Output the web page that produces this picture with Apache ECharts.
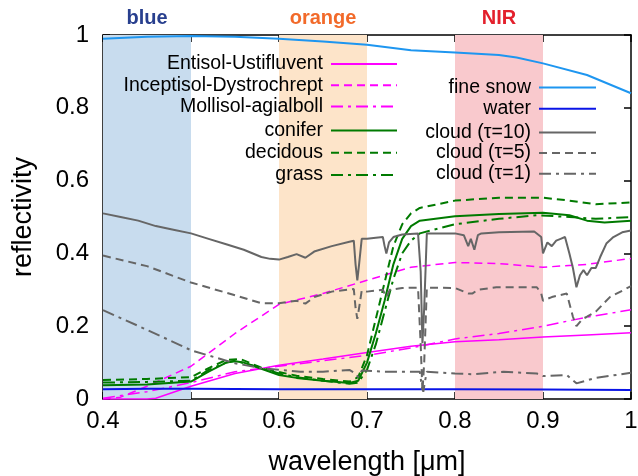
<!DOCTYPE html>
<html>
<head>
<meta charset="utf-8">
<script src="https://cdn.jsdelivr.net/npm/echarts@6/dist/echarts.min.js"></script>
<style>html,body{margin:0;padding:0;background:#fff}#c{width:638px;height:476px}</style>
</head>
<body>
<div id="c"></div>
<script>
// ---- data ----
var xTicks = [0.4, 0.5, 0.6, 0.7, 0.8, 0.9, 1];
var yTicks = [0, 0.2, 0.4, 0.6, 0.8, 1];
var bands = [
  {name: 'blue', from: 0.4, to: 0.5},
  {name: 'orange', from: 0.6, to: 0.7},
  {name: 'NIR', from: 0.8, to: 0.9}
];
var soilNames = ['Entisol-Ustifluvent', 'Inceptisol-Dystrochrept', 'Mollisol-agialboll'];
var vegNames = ['conifer', 'decidous', 'grass'];
var snowWaterNames = ['fine snow', 'water'];
var cloudNames = ['cloud (\u03c4=10)', 'cloud (\u03c4=5)', 'cloud (\u03c4=1)'];

var entisol = [[0.4,0.0],[0.45,0.0],[0.46,0.002],[0.5,0.035],[0.55,0.07],[0.6,0.093],[0.65,0.11],[0.7,0.128],[0.75,0.145],[0.8,0.157],[0.85,0.163],[0.9,0.17],[0.95,0.176],[1.0,0.182]];
var inceptisol = [[0.4,0.0],[0.42,0.005],[0.45,0.035],[0.5,0.09],[0.55,0.18],[0.6,0.26],[0.65,0.29],[0.7,0.326],[0.75,0.362],[0.8,0.375],[0.85,0.372],[0.9,0.362],[0.95,0.37],[1.0,0.386]];
var mollisol = [[0.4,0.002],[0.45,0.02],[0.5,0.045],[0.55,0.075],[0.6,0.09],[0.65,0.105],[0.7,0.12],[0.75,0.14],[0.8,0.165],[0.85,0.18],[0.9,0.2],[0.95,0.225],[1.0,0.245]];
var conifer = [[0.4,0.038],[0.45,0.04],[0.5,0.048],[0.52,0.075],[0.54,0.1],[0.55,0.104],[0.56,0.1],[0.58,0.083],[0.6,0.066],[0.62,0.058],[0.65,0.05],[0.68,0.044],[0.69,0.05],[0.7,0.1],[0.71,0.18],[0.72,0.27],[0.73,0.37],[0.74,0.44],[0.75,0.475],[0.76,0.49],[0.8,0.502],[0.85,0.508],[0.9,0.512],[0.93,0.505],[0.95,0.49],[0.97,0.485],[1.0,0.49]];
var decidous = [[0.4,0.052],[0.45,0.055],[0.5,0.06],[0.52,0.085],[0.54,0.107],[0.556,0.11],[0.578,0.088],[0.6,0.074],[0.62,0.064],[0.65,0.055],[0.68,0.048],[0.69,0.06],[0.7,0.12],[0.71,0.22],[0.72,0.32],[0.73,0.42],[0.74,0.48],[0.75,0.51],[0.76,0.525],[0.8,0.545],[0.85,0.553],[0.9,0.553],[0.93,0.545],[0.96,0.535],[1.0,0.54]];
var grass = [[0.4,0.045],[0.45,0.047],[0.5,0.05],[0.52,0.08],[0.54,0.1],[0.55,0.105],[0.57,0.092],[0.6,0.07],[0.62,0.06],[0.65,0.05],[0.68,0.042],[0.69,0.045],[0.7,0.08],[0.71,0.15],[0.72,0.24],[0.73,0.33],[0.74,0.4],[0.75,0.435],[0.76,0.455],[0.8,0.48],[0.85,0.495],[0.893,0.505],[0.93,0.5],[0.96,0.495],[1.0,0.5]];
var fineSnow = [[0.4,0.99],[0.45,0.995],[0.5,0.997],[0.55,0.995],[0.6,0.99],[0.65,0.982],[0.7,0.973],[0.75,0.958],[0.8,0.952],[0.85,0.945],[0.87,0.938],[0.9,0.922],[0.95,0.89],[1.0,0.84]];
var water = [[0.4,0.027],[0.45,0.028],[0.5,0.028],[0.6,0.027],[0.7,0.027],[0.8,0.027],[0.9,0.026],[1.0,0.025]];
var cloud10 = [[0.4,0.51],[0.42,0.5],[0.44,0.49],[0.46,0.475],[0.48,0.465],[0.5,0.455],[0.52,0.44],[0.54,0.425],[0.56,0.41],[0.58,0.39],[0.59,0.385],[0.6,0.383],[0.61,0.39],[0.62,0.398],[0.63,0.388],[0.632,0.385],[0.64,0.405],[0.66,0.42],[0.68,0.432],[0.685,0.435],[0.687,0.37],[0.689,0.326],[0.691,0.37],[0.694,0.44],[0.7,0.44],[0.71,0.443],[0.718,0.445],[0.72,0.42],[0.722,0.4],[0.725,0.43],[0.73,0.445],[0.74,0.452],[0.758,0.455],[0.761,0.35],[0.763,0.153],[0.765,0.25],[0.768,0.455],[0.8,0.455],[0.81,0.45],[0.815,0.42],[0.818,0.44],[0.822,0.41],[0.826,0.45],[0.83,0.455],[0.85,0.458],[0.89,0.46],[0.898,0.445],[0.9,0.4],[0.905,0.43],[0.91,0.42],[0.915,0.435],[0.92,0.44],[0.925,0.445],[0.93,0.4],[0.934,0.36],[0.938,0.307],[0.942,0.34],[0.946,0.354],[0.95,0.34],[0.955,0.36],[0.96,0.36],[0.965,0.39],[0.972,0.427],[0.98,0.445],[0.99,0.458],[1.0,0.463]];
var cloud5 = [[0.4,0.394],[0.45,0.365],[0.5,0.32],[0.55,0.285],[0.58,0.263],[0.6,0.263],[0.62,0.27],[0.63,0.262],[0.64,0.28],[0.66,0.295],[0.685,0.302],[0.687,0.25],[0.689,0.22],[0.691,0.25],[0.694,0.298],[0.7,0.295],[0.718,0.3],[0.722,0.28],[0.726,0.3],[0.74,0.305],[0.758,0.306],[0.761,0.15],[0.763,0.02],[0.765,0.1],[0.768,0.306],[0.8,0.305],[0.815,0.29],[0.82,0.29],[0.826,0.3],[0.847,0.307],[0.893,0.307],[0.898,0.29],[0.9,0.27],[0.91,0.28],[0.927,0.29],[0.934,0.226],[0.938,0.2],[0.945,0.22],[0.95,0.226],[0.96,0.24],[0.976,0.28],[1.0,0.31]];
var cloud1 = [[0.4,0.244],[0.45,0.19],[0.5,0.134],[0.55,0.098],[0.58,0.085],[0.6,0.08],[0.624,0.075],[0.65,0.075],[0.68,0.08],[0.687,0.07],[0.69,0.06],[0.694,0.078],[0.72,0.075],[0.76,0.075],[0.762,0.04],[0.764,0.02],[0.766,0.05],[0.768,0.075],[0.8,0.07],[0.82,0.068],[0.855,0.075],[0.893,0.07],[0.9,0.063],[0.927,0.066],[0.938,0.043],[0.96,0.058],[1.0,0.072]];

// ---- styling ----
var FONT = 'Liberation Sans';
var bandColors = ['#c8dcee', '#fde4c9', '#f9c9cd'];
var bandLabelColors = ['#283f8e', '#f26a2a', '#e3202c'];
var MAG = '#ff00ff', GRN = '#007a00', GRY = '#666666';
var DASH = [8, 5], DASHDOT = [12, 5, 3, 5];

function line(name, data, color, type, width, extra) {
  var s = {
    name: name, type: 'line', data: data, symbol: 'none', showSymbol: false,
    xAxisIndex: 0, yAxisIndex: 0, animation: false,
    lineStyle: {color: color, width: width, type: type},
    itemStyle: {color: color}, silent: true
  };
  if (extra) for (var k in extra) s[k] = extra[k];
  return s;
}

var markArea = {
  silent: true,
  data: bands.map(function (b, i) {
    return [{
      name: b.name, xAxis: b.from,
      itemStyle: {color: bandColors[i]},
      label: {show: true, position: 'top', distance: 7, color: bandLabelColors[i],
        fontWeight: 'bold', fontSize: 20, fontFamily: FONT}
    }, {xAxis: b.to}];
  })
};

var series = [
  line(soilNames[0], entisol, MAG, 'solid', 1.5, {markArea: markArea, z: 2}),
  line(soilNames[1], inceptisol, MAG, DASH, 1.5),
  line(soilNames[2], mollisol, MAG, DASHDOT, 1.5),
  line(vegNames[0], conifer, GRN, 'solid', 2),
  line(vegNames[1], decidous, GRN, DASH, 2),
  line(vegNames[2], grass, GRN, DASHDOT, 2),
  line(snowWaterNames[0], fineSnow, '#1e96f0', 'solid', 2),
  line(snowWaterNames[1], water, '#0a14e6', 'solid', 2),
  line(cloudNames[0], cloud10, GRY, 'solid', 2),
  line(cloudNames[1], cloud5, GRY, DASH, 2),
  line(cloudNames[2], cloud1, GRY, DASHDOT, 2)
];

function legend(names, right, top, width, gap) {
  return {
    data: names, orient: 'vertical', align: 'right', right: right, top: top,
    itemWidth: width, itemHeight: 12, itemGap: gap, padding: 0,
    selectedMode: false,
    itemStyle: {color: 'rgba(0,0,0,0)', borderWidth: 0, opacity: 0},
    textStyle: {fontSize: 19.5, fontFamily: FONT, color: '#000', padding: [0, 3, 0, 0]}
  };
}

var axisLineStyle = {color: '#000', width: 1.5};
function xAx(pos, showLabel) {
  return {
    type: 'value', min: xTicks[0], max: xTicks[xTicks.length - 1], interval: 0.1,
    position: pos,
    axisLine: {show: true, onZero: false, lineStyle: axisLineStyle},
    axisTick: {show: true, inside: true, length: 7, lineStyle: axisLineStyle},
    axisLabel: {show: showLabel, fontSize: 24, color: '#000', fontFamily: FONT, margin: 10},
    splitLine: {show: false},
    name: showLabel ? 'wavelength [\u03bcm]' : '',
    nameLocation: 'middle', nameGap: 50,
    nameTextStyle: {fontSize: 27, color: '#000', fontFamily: FONT}
  };
}
function yAx(pos, showLabel) {
  return {
    type: 'value', min: yTicks[0], max: yTicks[yTicks.length - 1], interval: 0.2,
    position: pos,
    axisLine: {show: true, onZero: false, lineStyle: axisLineStyle},
    axisTick: {show: true, inside: true, length: 7, lineStyle: axisLineStyle},
    axisLabel: {show: showLabel, fontSize: 24, color: '#000', fontFamily: FONT, margin: 14},
    splitLine: {show: false},
    name: showLabel ? 'reflectivity' : '',
    nameLocation: 'middle', nameGap: 66,
    nameTextStyle: {fontSize: 27, color: '#000', fontFamily: FONT}
  };
}

var chart = echarts.init(document.getElementById('c'), null, {renderer: 'canvas'});
chart.setOption({
  animation: false,
  backgroundColor: '#fff',
  grid: {left: 103, right: 7, top: 35, bottom: 77, containLabel: false, outerBoundsMode: 'none'},
  xAxis: [xAx('bottom', true), xAx('top', false)],
  yAxis: [yAx('left', true), yAx('right', false)],
  legend: [
    legend(soilNames, 240, 54, 66, 1.3),
    legend(vegNames, 240, 120.5, 66, 2.3),
    legend(snowWaterNames, 41, 77.5, 57, 1.3),
    legend(cloudNames, 41, 122.5, 57, 0.6)
  ],
  series: series
});
</script>
</body>
</html>
